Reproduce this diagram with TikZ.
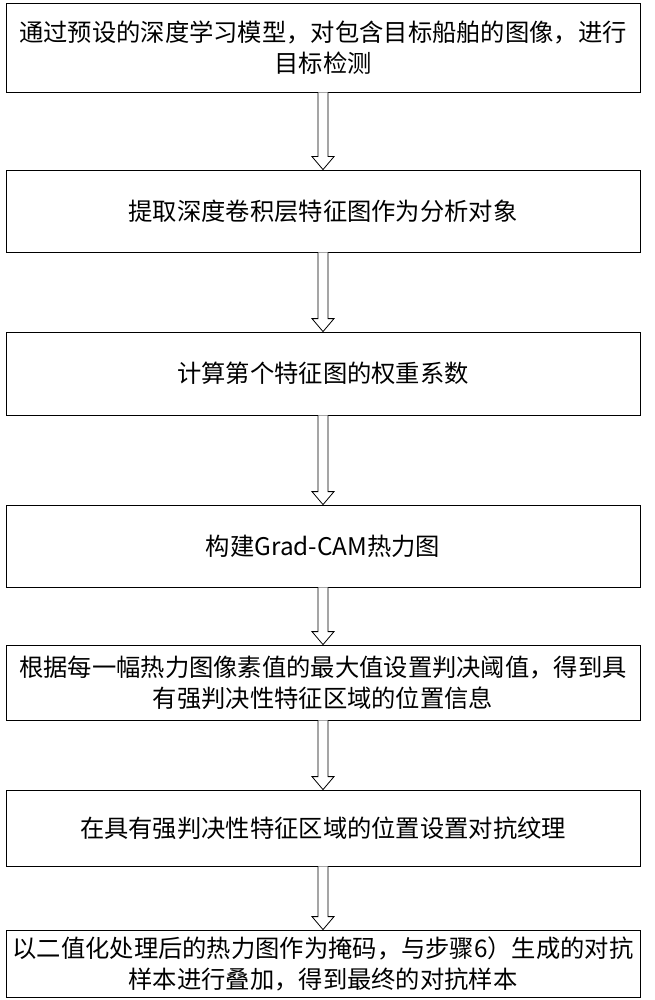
\documentclass[tikz,border=0pt]{standalone}
\usepackage{fontspec}
\newfontfamily\cjk{Noto Sans CJK SC}
\usetikzlibrary{calc}
\begin{document}
\begin{tikzpicture}[x=1pt,y=-1pt,
  box/.style={draw,line width=0.8pt,minimum width=634pt,text width=630pt,align=center,font=\cjk\fontsize{24.3}{31}\selectfont,inner sep=2pt},
  harrow/.style={draw,line width=0.8pt,fill=white}]
\useasboundingbox (0,0) rectangle (654,1000);
\node[box,minimum height=89pt] (b1) at (323,47.5) {通过预设的深度学习模型，对包含目标船舶的图像，进行\\目标检测};
\node[box,minimum height=82pt] (b2) at (323,211) {提取深度卷积层特征图作为分析对象};
\node[box,minimum height=83pt] (b3) at (323,373.5) {计算第个特征图的权重系数};
\node[box,minimum height=82pt] (b4) at (323,546) {构建Grad-CAM热力图};
\node[box,minimum height=75pt] (b5) at (323,682.5) {根据每一幅热力图像素值的最大值设置判决阈值，得到具\\有强判决性特征区域的位置信息};
\node[box,minimum height=76pt] (b6) at (323,828) {在具有强判决性特征区域的位置设置对抗纹理};
\node[box,minimum height=67pt] (b7) at (323,963.5) {以二值化处理后的热力图作为掩码，与步骤6）生成的对抗\\样本进行叠加，得到最终的对抗样本};
\foreach \a/\b in {b1/b2,b2/b3,b3/b4,b4/b5,b5/b6,b6/b7}{
  \draw[harrow] let \p1=(\a.south), \p2=(\b.north) in
   (\x1-5,\y1) -- (\x1-5,\y2+13) -- (\x1-11,\y2+13) -- (\x1,\y2) -- (\x1+11,\y2+13) -- (\x1+5,\y2+13) -- (\x1+5,\y1);
}
\end{tikzpicture}
\end{document}
